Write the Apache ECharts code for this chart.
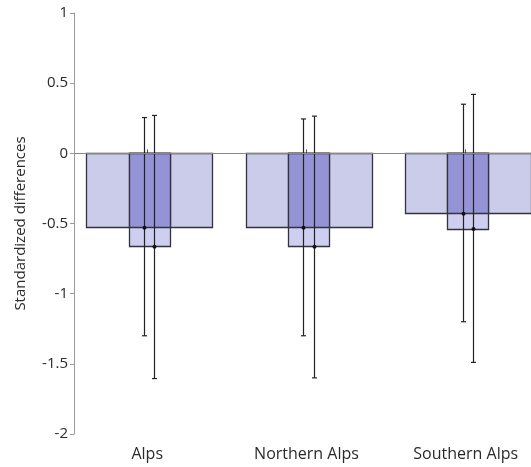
<!DOCTYPE html>
<html>
<head>
<meta charset="utf-8">
<script src="https://cdn.jsdelivr.net/npm/echarts@6/dist/echarts.min.js"></script>
<style>html,body{margin:0;padding:0;background:#fff}#c{width:531px;height:467px}</style>
</head>
<body>
<div id="c"></div>
<script>
var categories = ['Alps', 'Northern Alps', 'Southern Alps'];
var wideMean = [-0.53, -0.53, -0.43];
var narrowMean = [-0.665, -0.665, -0.54];
var wideLow = [-1.30, -1.30, -1.20];
var wideHigh = [0.255, 0.245, 0.35];
var narrowLow = [-1.605, -1.60, -1.49];
var narrowHigh = [0.27, 0.265, 0.42];
var yTicks = [-2, -1.5, -1, -0.5, 0, 0.5, 1];

var FONT = 'Open Sans';
var BAR_OFF = 0.013, WIDE_HALF = 0.395, NARROW_HALF = 0.128;
var ERR_L = -0.02, ERR_R = 0.045;

var barData = categories.map(function (c, i) { return [i + 1, wideMean[i], narrowMean[i]]; });
var errData = [];
categories.forEach(function (c, i) {
  errData.push([i + 1 + ERR_L, wideLow[i], wideHigh[i], wideMean[i]]);
  errData.push([i + 1 + ERR_R, narrowLow[i], narrowHigh[i], narrowMean[i]]);
});

function rectOf(api, x0, x1, y0, y1, style) {
  var p0 = api.coord([x0, y0]);
  var p1 = api.coord([x1, y1]);
  return {
    type: 'rect',
    shape: { x: Math.round(p0[0]) + 0.5, y: Math.round(Math.min(p0[1], p1[1])) + 0.5,
             width: Math.round(p1[0] - p0[0]), height: Math.round(Math.abs(p1[1] - p0[1])) },
    style: style
  };
}

var chart = echarts.init(document.getElementById('c'), null, { renderer: 'canvas' });
chart.setOption({
  animation: false,
  grid: { left: 74, right: 0, top: 13, bottom: 33 },
  xAxis: {
    type: 'value', min: 0.54, max: 3.41,
    axisLine: { show: true, lineStyle: { color: '#555', width: 1 } },
    axisTick: { show: true, inside: true, length: 4, customValues: [1, 2, 3], lineStyle: { color: '#555' } },
    axisLabel: { customValues: [1, 2, 3], color: '#2a2a2a', fontFamily: FONT, fontSize: 16, margin: 12,
      formatter: function (v) { return categories[Math.round(v) - 1] || ''; } },
    splitLine: { show: false }
  },
  yAxis: {
    type: 'value', min: -2, max: 1, interval: 0.5,
    name: 'Standardized differences', nameLocation: 'middle', nameGap: 46,
    nameTextStyle: { color: '#2a2a2a', fontFamily: FONT, fontSize: 15 },
    axisLine: { show: true, lineStyle: { color: '#999', width: 1 } },
    axisTick: { show: true, length: 4, lineStyle: { color: '#999' } },
    axisLabel: { color: '#2a2a2a', fontFamily: FONT, fontSize: 15, margin: 6,
      formatter: function (v) { return String(v); } },
    splitLine: { show: false }
  },
  series: [
    {
      type: 'custom', data: barData, z: 2,
      renderItem: function (params, api) {
        var c = api.value(0), w = api.value(1), n = api.value(2);
        var stroke = '#333340';
        var overlap = Math.max(w, n);
        return { type: 'group', children: [
          rectOf(api, c + BAR_OFF - WIDE_HALF, c + BAR_OFF + WIDE_HALF, 0, w, { fill: '#cbcbea', stroke: stroke, lineWidth: 1.3 }),
          rectOf(api, c + BAR_OFF - NARROW_HALF, c + BAR_OFF + NARROW_HALF, 0, n, { fill: '#cecef0', stroke: stroke, lineWidth: 1.3 }),
          rectOf(api, c + BAR_OFF - NARROW_HALF, c + BAR_OFF + NARROW_HALF, 0, overlap, { fill: '#9393d6', stroke: stroke, lineWidth: 1.3 })
        ]};
      },
      markLine: {
        silent: true, symbol: 'none', label: { show: false },
        lineStyle: { color: '#888', width: 1, type: 'solid' },
        data: [{ yAxis: 0 }]
      }
    },
    {
      type: 'custom', data: errData, z: 3,
      renderItem: function (params, api) {
        var x = api.value(0);
        var lo = api.coord([x, api.value(1)]);
        var hi = api.coord([x, api.value(2)]);
        var m = api.coord([x, api.value(3)]);
        var px = Math.round(lo[0]) + 0.5;
        var st = { stroke: '#222', lineWidth: 1.2 };
        return { type: 'group', children: [
          { type: 'line', shape: { x1: px, y1: lo[1], x2: px, y2: hi[1] }, style: st },
          { type: 'line', shape: { x1: px - 2.5, y1: lo[1], x2: px + 2.5, y2: lo[1] }, style: st },
          { type: 'line', shape: { x1: px - 2.5, y1: hi[1], x2: px + 2.5, y2: hi[1] }, style: st },
          { type: 'circle', shape: { cx: px, cy: m[1], r: 2 }, style: { fill: '#111' } }
        ]};
      }
    }
  ]
});
</script>
</body>
</html>
